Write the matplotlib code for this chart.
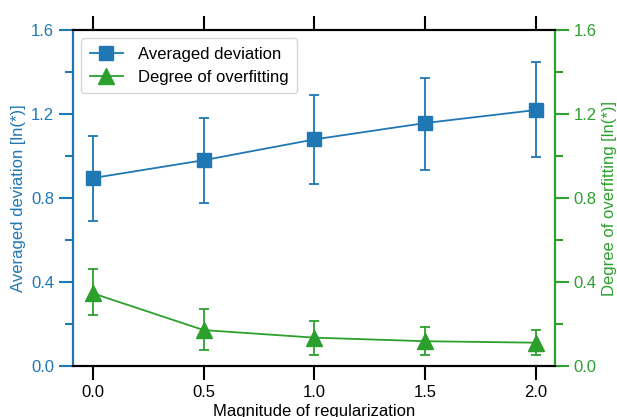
import matplotlib
matplotlib.use("Agg")
import matplotlib.pyplot as plt
from matplotlib.ticker import MultipleLocator
from matplotlib.lines import Line2D

plt.rcParams['font.family'] = ['Liberation Sans', 'DejaVu Sans']

x = [0.0, 0.5, 1.0, 1.5, 2.0]
avg_dev = [0.895, 0.98, 1.079, 1.157, 1.219]
avg_dev_lo = [0.692, 0.776, 0.868, 0.935, 0.997]
avg_dev_hi = [1.095, 1.18, 1.289, 1.373, 1.448]
overfit = [0.346, 0.171, 0.135, 0.118, 0.111]
overfit_lo = [0.241, 0.075, 0.051, 0.051, 0.051]
overfit_hi = [0.462, 0.271, 0.213, 0.187, 0.171]

blue = '#1f77b4'
green = '#2ca02c'

fig = plt.figure(figsize=(6.17, 4.17), dpi=100)
ax = fig.add_axes([73/617, 1-366/417, (555-73)/617, (366-30)/417])
ax2 = ax.twinx()

err1 = [[a - l for a, l in zip(avg_dev, avg_dev_lo)], [h - a for a, h in zip(avg_dev, avg_dev_hi)]]
err2 = [[a - l for a, l in zip(overfit, overfit_lo)], [h - a for a, h in zip(overfit, overfit_hi)]]

ax.errorbar(x, avg_dev, yerr=err1, color=blue, marker='s', markersize=10,
            capsize=3.5, lw=1.3, elinewidth=1.3, capthick=1.3)
ax2.errorbar(x, overfit, yerr=err2, color=green, marker='^', markersize=11,
             capsize=3.5, lw=1.3, elinewidth=1.3, capthick=1.3)

for a in (ax, ax2):
    a.set_ylim(0, 1.6)
    a.set_xlim(-0.09, 2.086)
    a.yaxis.set_major_locator(MultipleLocator(0.4))
    a.yaxis.set_minor_locator(MultipleLocator(0.2))

ax.set_xticks(x)
ax.set_xticklabels(['0.0', '0.5', '1.0', '1.5', '2.0'])
ax.tick_params(axis='x', which='both', direction='out', length=10, width=1.5,
               top=True, labeltop=False, labelsize=12, colors='black')
ax.tick_params(axis='y', which='major', direction='out', length=10, width=1.5,
               colors=blue, labelsize=12)
ax.tick_params(axis='y', which='minor', direction='out', length=6, width=1.5, colors=blue)
ax2.tick_params(axis='y', which='major', direction='out', length=10, width=1.5,
                colors=green, labelsize=12)
ax2.tick_params(axis='y', which='minor', direction='out', length=6, width=1.5, colors=green)

for a in (ax, ax2):
    for s in a.spines.values():
        s.set_linewidth(1.5)
ax2.spines['left'].set_color(blue)
ax2.spines['right'].set_color(green)
ax2.spines['top'].set_color('black')
ax2.spines['bottom'].set_color('black')

ax.set_yticks([0, 0.4, 0.8, 1.2, 1.6])
ax.set_yticklabels(['0.0', '0.4', '0.8', '1.2', '1.6'])
ax2.set_yticks([0, 0.4, 0.8, 1.2, 1.6])
ax2.set_yticklabels(['0.0', '0.4', '0.8', '1.2', '1.6'])

ax.set_ylabel('Averaged deviation [ln(*)]', color=blue, fontsize=12, labelpad=4)
ax2.set_ylabel('Degree of overfitting [ln(*)]', color=green, fontsize=12, labelpad=4)
ax.set_xlabel('Magnitude of regularization', fontsize=12, labelpad=3)

h1 = Line2D([], [], color=blue, marker='s', markersize=10, lw=1.3)
h2 = Line2D([], [], color=green, marker='^', markersize=11, lw=1.3)
ax2.legend([h1, h2], ['Averaged deviation', 'Degree of overfitting'], loc='upper left',
           fontsize=12, frameon=True, fancybox=True, handlelength=2.0,
           borderpad=0.5, labelspacing=0.5, handletextpad=0.9)

fig.savefig('out.png', dpi=100)
